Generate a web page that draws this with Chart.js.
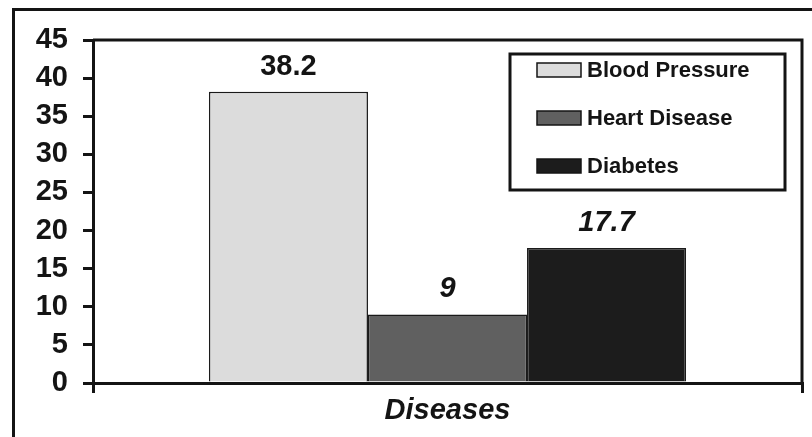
<!DOCTYPE html>
<html>
<head>
<meta charset="utf-8">
<script src="https://cdn.jsdelivr.net/npm/chart.js@4/dist/chart.umd.min.js"></script>
<style>
  html, body { margin: 0; padding: 0; background: #fff; }
  #wrap { width: 812px; height: 437px; }
</style>
</head>
<body>
<div id="wrap"><canvas id="chart"></canvas></div>
<script>
const categories = ['Diseases'];
const seriesNames = ['Blood Pressure', 'Heart Disease', 'Diabetes'];
const bloodPressure = [38.2];
const heartDisease = [9];
const diabetes = [17.7];
const yTicks = [0, 5, 10, 15, 20, 25, 30, 35, 40, 45];

const FONT = "'Liberation Sans', Arial, sans-serif";
const INK = '#141414';

// frame round the whole picture (only top and left show)
const framePlugin = {
    id: 'frame',
    beforeDraw(chart) {
        const ctx = chart.ctx;
        ctx.save();
        ctx.strokeStyle = INK;
        ctx.lineWidth = 3;
        ctx.beginPath();
        ctx.moveTo(13.5, chart.height);
        ctx.lineTo(13.5, 9.5);
        ctx.lineTo(chart.width, 9.5);
        ctx.stroke();
        ctx.restore();
    },
    afterDraw(chart) {
        const a = chart.chartArea;
        const ctx = chart.ctx;
        ctx.save();
        ctx.strokeStyle = INK;
        ctx.lineWidth = 3;
        ctx.beginPath();
        ctx.moveTo(a.left, a.top);
        ctx.lineTo(a.right, a.top);
        ctx.lineTo(a.right, a.bottom);
        ctx.stroke();
        ctx.restore();
    }
};

// value above each bar
const valueLabels = {
    id: 'valueLabels',
    afterDatasetsDraw(chart) {
        const ctx = chart.ctx;
        ctx.save();
        ctx.fillStyle = INK;
        ctx.textAlign = 'center';
        ctx.textBaseline = 'alphabetic';
        chart.data.datasets.forEach((ds, i) => {
            chart.getDatasetMeta(i).data.forEach((bar, j) => {
                ctx.font = (ds.labelItalic ? 'italic ' : '') + 'bold 29px ' + FONT;
                ctx.fillText(String(ds.data[j]), bar.x, bar.y - 17);
            });
        });
        ctx.restore();
    }
};

// boxed legend inside the plot, top right
const boxLegend = {
    id: 'boxLegend',
    afterDraw(chart) {
        const a = chart.chartArea;
        const ctx = chart.ctx;
        const right = a.right - 17, top = a.top + 14;
        const left = right - 275, bottom = top + 136;
        ctx.save();
        ctx.fillStyle = '#fff';
        ctx.fillRect(left, top, right - left, bottom - top);
        ctx.strokeStyle = INK;
        ctx.lineWidth = 3;
        ctx.strokeRect(left, top, right - left, bottom - top);
        ctx.font = 'bold 22px ' + FONT;
        ctx.textBaseline = 'middle';
        chart.data.datasets.forEach((ds, i) => {
            const cy = top + 16 + i * 48;
            ctx.fillStyle = ds.backgroundColor;
            ctx.fillRect(left + 27, cy - 7, 44, 14);
            ctx.lineWidth = 1.5;
            ctx.strokeStyle = INK;
            ctx.strokeRect(left + 27, cy - 7, 44, 14);
            ctx.fillStyle = INK;
            ctx.fillText(ds.label, left + 77, cy + 1);
        });
        ctx.restore();
    }
};

new Chart(document.getElementById('chart'), {
    type: 'bar',
    data: {
        labels: categories,
        datasets: [
            { label: seriesNames[0], data: bloodPressure, backgroundColor: '#dcdcdc', labelItalic: false },
            { label: seriesNames[1], data: heartDisease, backgroundColor: '#606060', labelItalic: true },
            { label: seriesNames[2], data: diabetes, backgroundColor: '#1c1c1c', labelItalic: true }
        ]
    },
    options: {
        responsive: true,
        maintainAspectRatio: false,
        animation: false,
        layout: { padding: { left: 0, top: 40, right: 10, bottom: 0 } },
        datasets: {
            bar: {
                categoryPercentage: 0.673,
                barPercentage: 1,
                borderColor: '#1a1a1a',
                borderWidth: 1.5
            }
        },
        plugins: {
            legend: { display: false },
            tooltip: { enabled: false }
        },
        scales: {
            x: {
                afterFit: (s) => { s.height = 54; },
                grid: {
                    offset: true,
                    drawOnChartArea: false,
                    color: INK,
                    lineWidth: 3,
                    tickLength: 10
                },
                border: { display: true, color: INK, width: 3 },
                ticks: {
                    color: INK,
                    padding: 1,
                    font: { family: FONT, size: 29, weight: 'bold', style: 'italic' }
                }
            },
            y: {
                min: 0,
                max: 45,
                afterFit: (s) => { s.width = 93; },
                afterBuildTicks: (s) => { s.ticks = yTicks.map(v => ({ value: v })); },
                grid: {
                    drawOnChartArea: false,
                    color: INK,
                    lineWidth: 3,
                    tickLength: 10
                },
                border: { display: true, color: INK, width: 3 },
                ticks: {
                    color: INK,
                    padding: 15,
                    autoSkip: false,
                    font: { family: FONT, size: 29, weight: 'bold' }
                }
            }
        }
    },
    plugins: [framePlugin, valueLabels, boxLegend]
});
</script>
</body>
</html>
